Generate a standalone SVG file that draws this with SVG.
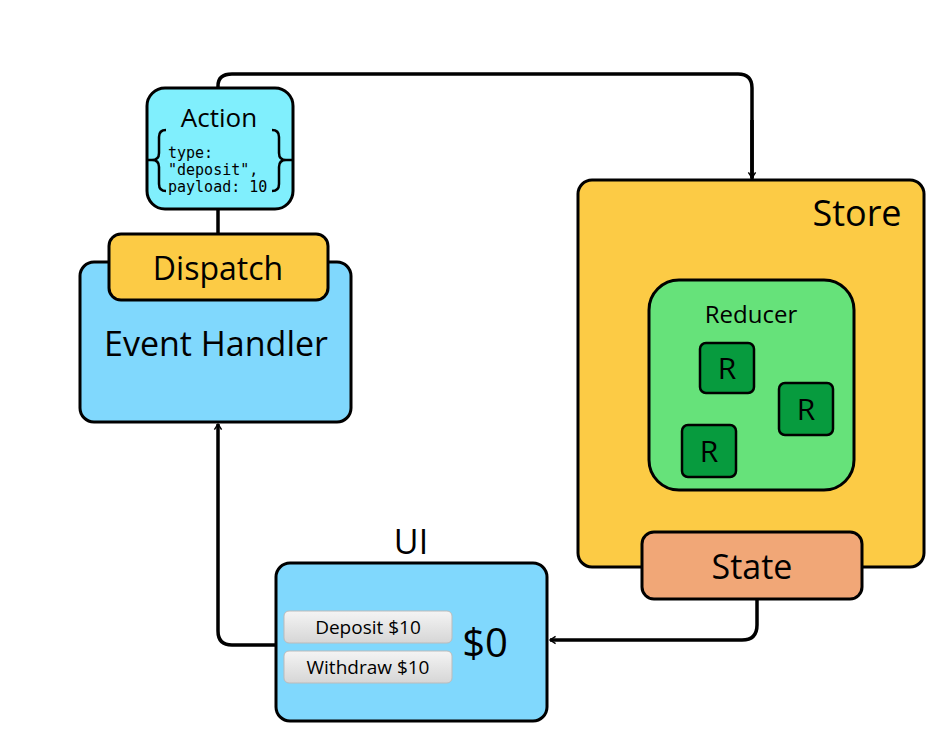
<svg xmlns="http://www.w3.org/2000/svg" width="951" height="741" viewBox="0 0 951 741">
<style>
.b{stroke:#000;stroke-width:3}
.t{font-family:"Open Sans","Liberation Sans",sans-serif;fill:#000}
.c{fill:none;stroke:#000;stroke-width:3.5;stroke-linejoin:round}
.btn{fill:url(#g);stroke:#bbb;stroke-width:1}
.r{fill:#079b3e;stroke:#000;stroke-width:2.5}
</style>
<defs>
<marker id="a" viewBox="0 0 20 20" refX="18" refY="10" markerWidth="8" markerHeight="8" markerUnits="userSpaceOnUse" orient="auto" overflow="visible">
<path d="M4,1 L18,10 L4,19" fill="none" stroke="#000" stroke-width="3.5"/>
</marker>
<linearGradient id="g" x1="0" y1="0" x2="0" y2="1"><stop offset="0" stop-color="#f4f4f4"/><stop offset="1" stop-color="#d6d6d6"/></linearGradient>
</defs>
<rect width="951" height="741" fill="#fff"/>
<g id="connectors">
<path class="c" d="M218,88 V86 Q218,74 232,74 H738 Q752,74 752,88 V278" marker-end="url(#a)"/>
<path class="c" d="M752,120 V178" marker-end="url(#a)"/>
<path class="c" d="M642,552 H616 V250 H700 Q710,250 710,262 V278" marker-end="url(#a)"/>
<path class="c" d="M757,490 V530" marker-end="url(#a)"/>
<path class="c" d="M757,600 V625 Q757,640 742,640 H550" marker-end="url(#a)"/>
<path class="c" d="M276,645 H232 Q218,645 218,631 V424" marker-end="url(#a)"/>
<path class="c" d="M218,209 V234"/>
</g>
<g id="event-handler">
<rect class="b" x="80" y="262" width="271" height="160" rx="14" fill="#80d8fd"/>
<text class="t" x="216" y="356" font-size="34" text-anchor="middle">Event Handler</text>
</g>
<g id="dispatch">
<rect class="b" x="109" y="234" width="219" height="66" rx="12" fill="#fccb45"/>
<text class="t" x="218" y="280" font-size="32" text-anchor="middle">Dispatch</text>
</g>
<g id="action">
<rect class="b" x="147" y="88" width="146" height="121" rx="18" fill="#80effd"/>
<text class="t" x="219" y="127" font-size="26" text-anchor="middle">Action</text>
<text x="168" y="158" font-size="15" font-family="'DejaVu Sans Mono',monospace">type:</text>
<text x="168" y="175" font-size="15" font-family="'DejaVu Sans Mono',monospace">"deposit",</text>
<text x="168" y="192" font-size="15" font-family="'DejaVu Sans Mono',monospace">payload: 10</text>
<path d="M166,130 Q159,130 159,137 V153 Q159,160 152,160 Q159,160 159,167 V184 Q159,191 166,191" fill="none" stroke="#000" stroke-width="2.5"/>
<path d="M272,130 Q279,130 279,137 V153 Q279,160 286,160 Q279,160 279,167 V184 Q279,191 272,191" fill="none" stroke="#000" stroke-width="2.5"/>
<path d="M147,160 H152 M286,160 H293" stroke="#000" stroke-width="2.5"/>
</g>
<g id="store">
<rect class="b" x="578" y="180" width="346" height="387" rx="14" fill="#fccb45"/>
<text class="t" x="857" y="226" font-size="36" text-anchor="middle">Store</text>
</g>
<g id="reducer">
<rect class="b" x="649" y="280" width="205" height="210" rx="30" fill="#66e27a"/>
<text class="t" x="751" y="323" font-size="24" text-anchor="middle">Reducer</text>
<rect class="r" x="700" y="343" width="54" height="50" rx="6"/>
<text class="t" x="727" y="379" font-size="30" text-anchor="middle">R</text>
<rect class="r" x="779" y="383" width="54" height="52" rx="6"/>
<text class="t" x="806" y="420" font-size="30" text-anchor="middle">R</text>
<rect class="r" x="682" y="425" width="54" height="52" rx="6"/>
<text class="t" x="709" y="462" font-size="30" text-anchor="middle">R</text>
</g>
<g id="state">
<rect class="b" x="642" y="532" width="220" height="67" rx="12" fill="#f1a777"/>
<text class="t" x="752" y="579" font-size="34" text-anchor="middle">State</text>
</g>
<g id="ui">
<text class="t" x="411" y="554" font-size="34" text-anchor="middle">UI</text>
<rect class="b" x="276" y="563" width="271" height="158" rx="14" fill="#80d8fd"/>
<rect class="btn" x="284" y="611" width="168" height="32" rx="5"/>
<text class="t" x="368" y="634" font-size="19" text-anchor="middle">Deposit $10</text>
<rect class="btn" x="284" y="651" width="168" height="32" rx="5"/>
<text class="t" x="368" y="674" font-size="19" text-anchor="middle">Withdraw $10</text>
<text class="t" x="485" y="657" font-size="40" text-anchor="middle">$0</text>
</g>
</svg>
